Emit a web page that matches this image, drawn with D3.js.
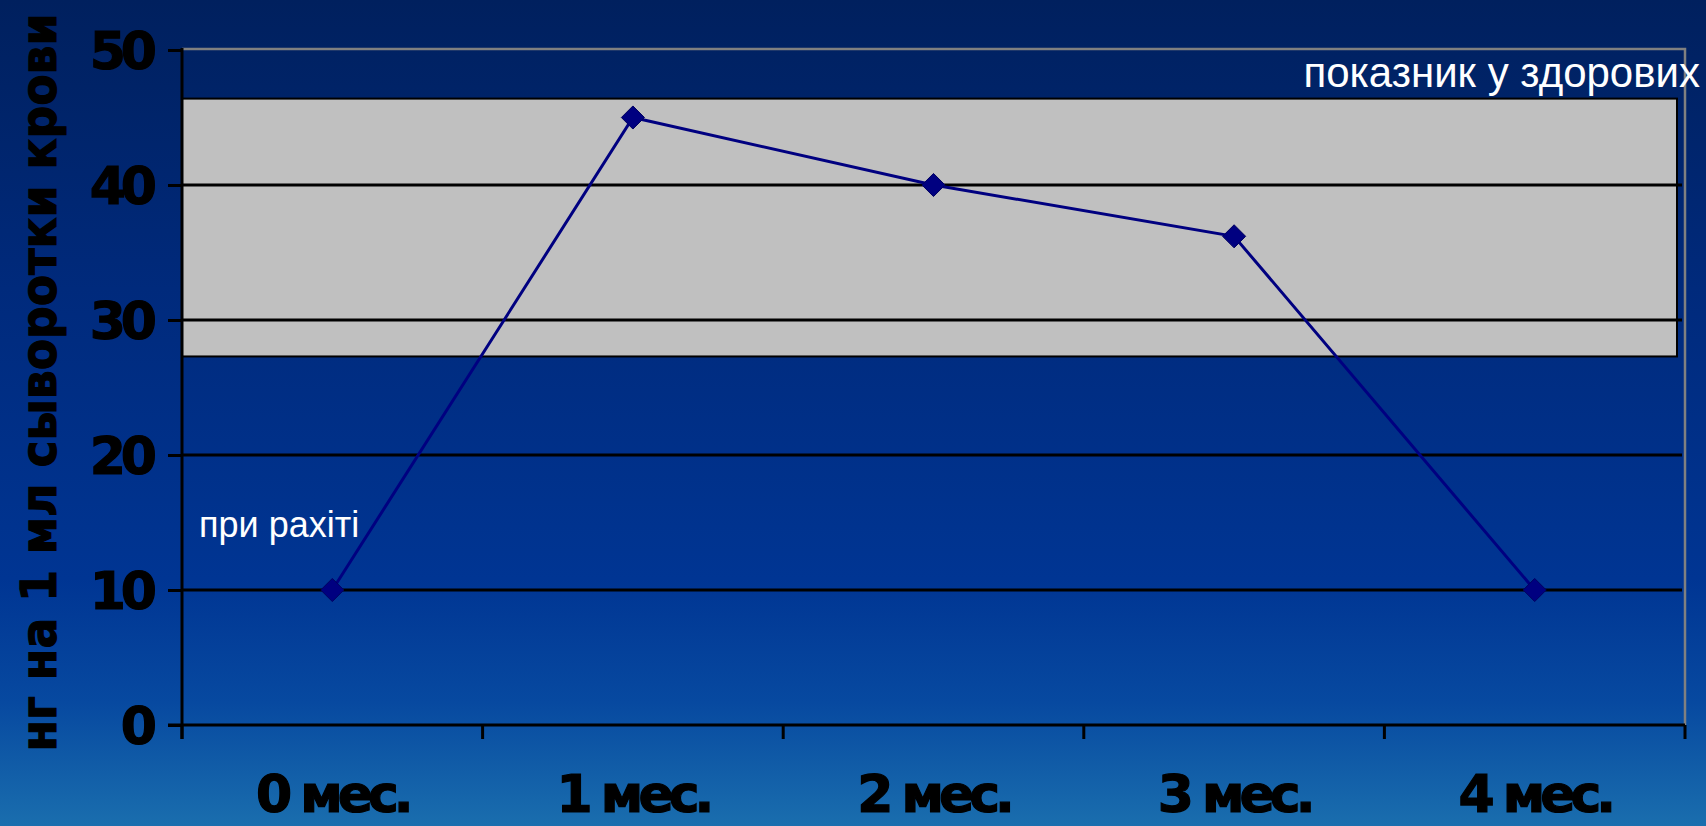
<!DOCTYPE html>
<html>
<head>
<meta charset="utf-8">
<script src="https://cdn.jsdelivr.net/npm/d3@7"></script>
<style>
  html, body { margin: 0; padding: 0; overflow: hidden; }
  svg { display: block; }
</style>
</head>
<body>
<svg id="chart" width="1706" height="826"></svg>
<script>
// Months after start of treatment
const categories = ["0 мес.", "1 мес.", "2 мес.", "3 мес.", "4 мес."];
// Serum level, ng per 1 ml
const values = [10, 45, 40, 36.2, 10];
const yTicks = [0, 10, 20, 30, 40, 50];
// Range seen in healthy children
const healthyRange = [27.3, 46.4];
const yTitle = "нг на 1 мл сыворотки крови";
const healthyLabel = "показник у здорових";
const ricketsLabel = "при рахіті";

const W = 1706, H = 826;
const plot = { left: 182, right: 1685, top: 50, bottom: 725 };

const svg = d3.select("#chart");

// Slide background: dark navy at the top, lighter blue toward the bottom
const defs = svg.append("defs");
const grad = defs.append("linearGradient")
  .attr("id", "bg").attr("x1", 0).attr("y1", 0).attr("x2", 0).attr("y2", 1);
[[0, "#00205e"], [0.35, "#002a7c"], [0.7, "#003593"], [0.85, "#0749a0"], [1, "#1a6eae"]]
  .forEach(([o, c]) => grad.append("stop").attr("offset", o).attr("stop-color", c));
svg.append("rect").attr("width", W).attr("height", H).attr("fill", "url(#bg)");

const x = d3.scaleBand().domain(categories).range([plot.left, plot.right]).padding(0);
const y = d3.scaleLinear().domain([0, 50]).range([plot.bottom, plot.top]);

const boldText = sel => sel
  .attr("fill", "#000")
  .attr("stroke", "#000")
  .attr("stroke-width", 1.2)
  .attr("font-family", "'DejaVu Sans', sans-serif")
  .attr("font-weight", "bold")
  .attr("font-size", 52);

// Healthy range band
svg.append("rect")
  .attr("x", plot.left)
  .attr("y", y(healthyRange[1]))
  .attr("width", 1677 - plot.left)
  .attr("height", y(healthyRange[0]) - y(healthyRange[1]))
  .attr("fill", "#c0c0c0")
  .attr("stroke", "#000")
  .attr("stroke-width", 2);

// Plot frame (top and right)
svg.append("path")
  .attr("d", `M${plot.left},${plot.top - 1}H${plot.right}V${plot.bottom}`)
  .attr("fill", "none").attr("stroke", "#808080").attr("stroke-width", 2.5);

// Horizontal gridlines
svg.append("g").selectAll("line")
  .data(yTicks.filter(t => t > 0 && t < 50))
  .join("line")
  .attr("x1", plot.left).attr("x2", 1682)
  .attr("y1", d => y(d)).attr("y2", d => y(d))
  .attr("stroke", "#000").attr("stroke-width", 3);

// Y axis
const yAxis = svg.append("g")
  .attr("transform", `translate(${plot.left},0)`)
  .call(d3.axisLeft(y).tickValues(yTicks).tickSize(14).tickPadding(16).tickSizeOuter(0));
yAxis.select(".domain").remove();
yAxis.selectAll(".tick line").attr("stroke", "#000").attr("stroke-width", 3);
yAxis.selectAll(".tick text")
  .call(boldText)
  .attr("letter-spacing", -5)
  .attr("dy", "0.36em");
svg.append("line")
  .attr("x1", plot.left).attr("x2", plot.left)
  .attr("y1", plot.top - 2).attr("y2", plot.bottom + 14)
  .attr("stroke", "#000").attr("stroke-width", 3);

// X axis: labels centered in bands, ticks on band boundaries
const xAxis = svg.append("g")
  .attr("transform", `translate(0,${plot.bottom})`)
  .call(d3.axisBottom(x).tickSize(0).tickPadding(0));
xAxis.select(".domain").remove();
xAxis.selectAll(".tick text")
  .call(boldText)
  .attr("letter-spacing", -5)
  .attr("dy", null)
  .attr("y", 87);
svg.append("line")
  .attr("x1", plot.left - 14).attr("x2", plot.right)
  .attr("y1", plot.bottom).attr("y2", plot.bottom)
  .attr("stroke", "#000").attr("stroke-width", 3);
const boundaries = categories.map(c => x(c)).concat([plot.right]);
svg.append("g").selectAll("line")
  .data(boundaries)
  .join("line")
  .attr("x1", d => d).attr("x2", d => d)
  .attr("y1", plot.bottom).attr("y2", plot.bottom + 14)
  .attr("stroke", "#000").attr("stroke-width", 3);

// Y axis title, squeezed horizontally so it spans the slide height
const titleLen = 738;
const title = svg.append("text")
  .attr("text-anchor", "middle")
  .call(boldText)
  .attr("font-size", 50)
  .text(yTitle);
const naturalLen = title.node().getComputedTextLength();
title.attr("transform",
  `translate(56,${(12 + 753) / 2}) rotate(-90) scale(${titleLen / naturalLen},1)`);

// Series line with diamond markers
const cx = c => x(c) + x.bandwidth() / 2;
const pts = categories.map((c, i) => [cx(c), y(values[i])]);
svg.append("path")
  .attr("d", d3.line()(pts))
  .attr("fill", "none")
  .attr("stroke", "#000080")
  .attr("stroke-width", 3);
svg.append("g").selectAll("path")
  .data(pts)
  .join("path")
  .attr("transform", d => `translate(${d[0]},${d[1]})`)
  .attr("d", d3.symbol(d3.symbolDiamond2, 340)())
  .attr("fill", "#000080")
  .attr("stroke", "#000060")
  .attr("stroke-width", 1);

// Annotations
svg.append("text")
  .attr("x", 1700).attr("y", 87)
  .attr("text-anchor", "end")
  .attr("fill", "#fff")
  .attr("font-family", "'Liberation Sans', Arial, sans-serif")
  .attr("font-size", 42)
  .text(healthyLabel);
svg.append("text")
  .attr("x", 199).attr("y", 537)
  .attr("fill", "#fff")
  .attr("font-family", "'Liberation Sans', Arial, sans-serif")
  .attr("font-size", 36)
  .text(ricketsLabel);
</script>
</body>
</html>
